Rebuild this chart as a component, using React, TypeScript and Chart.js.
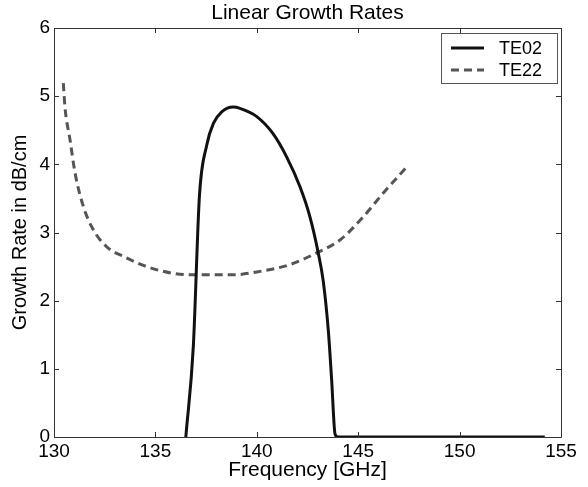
import React, { useEffect, useRef } from "react";
import { Chart, registerables } from "chart.js";

Chart.register(...registerables);

const titleText = "Linear Growth Rates";
const xLabel = "Frequency [GHz]";
const yLabel = "Growth Rate in dB/cm";

const te02Freq = [136.5, 136.87, 137.17, 137.53, 137.86, 138.27, 138.84, 139.17, 140.0, 140.8, 141.47, 142.13, 142.62, 143.03, 143.28, 143.53, 143.69, 143.86, 144.0, 146.0, 150.0, 154.2];
const te02Rate = [0, 1.33, 3.53, 4.28, 4.6, 4.77, 4.84, 4.82, 4.7, 4.45, 4.11, 3.67, 3.23, 2.7, 2.28, 1.55, 0.84, 0.04, 0, 0, 0, 0];

const te22Freq = [130.46, 130.54, 130.79, 131.04, 131.45, 131.94, 132.6, 133.42, 134.57, 135.88, 136.7, 138.84, 140.16, 141.64, 142.95, 144.1, 145.25, 146.24, 147.39];
const te22Rate = [5.19, 4.84, 4.36, 3.87, 3.38, 3.04, 2.79, 2.65, 2.5, 2.4, 2.38, 2.38, 2.43, 2.53, 2.7, 2.89, 3.23, 3.58, 3.96];

const xTicks = [130, 135, 140, 145, 150, 155];
const yTicks = [0, 1, 2, 3, 4, 5, 6];

const FONT = "'Liberation Sans', Arial, sans-serif";

const framePlugin = {
  id: "frame",
  afterDraw(chart: any) {
    const { ctx, chartArea: a, scales } = chart;
    const xs = scales.x;
    const ys = scales.y;
    ctx.save();
    ctx.strokeStyle = "#333";
    ctx.lineWidth = 1;
    ctx.beginPath();
    ctx.rect(Math.round(a.left) + 0.5, Math.round(a.top) + 0.5, Math.round(a.right - a.left), Math.round(a.bottom - a.top));
    ctx.stroke();
    const tl = 5;
    ctx.beginPath();
    xTicks.forEach((v) => {
      const px = Math.round(xs.getPixelForValue(v)) + 0.5;
      ctx.moveTo(px, a.bottom);
      ctx.lineTo(px, a.bottom - tl);
      ctx.moveTo(px, a.top);
      ctx.lineTo(px, a.top + tl);
    });
    yTicks.forEach((v) => {
      const py = Math.round(ys.getPixelForValue(v)) + 0.5;
      ctx.moveTo(a.left, py);
      ctx.lineTo(a.left + tl, py);
      ctx.moveTo(a.right, py);
      ctx.lineTo(a.right - tl, py);
    });
    ctx.stroke();

    // legend
    const bx = 441, by = 33, bw = 116, bh = 50;
    ctx.fillStyle = "#fff";
    ctx.fillRect(bx, by, bw, bh);
    ctx.strokeStyle = "#555";
    ctx.strokeRect(bx + 0.5, by + 0.5, bw, bh);
    const rows = [by + 15, by + 37];
    chart.data.datasets.forEach((ds: any, i: number) => {
      const y = rows[i];
      ctx.strokeStyle = ds.borderColor;
      ctx.lineWidth = ds.borderWidth;
      ctx.setLineDash(ds.borderDash || []);
      ctx.beginPath();
      ctx.moveTo(451, y);
      ctx.lineTo(484, y);
      ctx.stroke();
      ctx.setLineDash([]);
      ctx.fillStyle = "#000";
      ctx.font = `18px ${FONT}`;
      ctx.textBaseline = "middle";
      ctx.textAlign = "left";
      ctx.fillText(ds.label, 499, y + 1);
    });
    ctx.restore();
  },
};

export default function App() {
  const ref = useRef<HTMLCanvasElement | null>(null);
  useEffect(() => {
    document.body.style.margin = "0";
    const canvas = ref.current;
    if (!canvas) return;
    const chart = new Chart(canvas, {
      type: "scatter",
      data: {
        datasets: [
          {
            label: "TE02",
            data: te02Freq.map((x, i) => ({ x, y: te02Rate[i] })),
            showLine: true,
            borderColor: "#111",
            borderWidth: 3,
            pointRadius: 0,
            cubicInterpolationMode: "monotone",
          },
          {
            label: "TE22",
            data: te22Freq.map((x, i) => ({ x, y: te22Rate[i] })),
            showLine: true,
            borderColor: "#555",
            borderWidth: 3,
            borderDash: [8, 5],
            pointRadius: 0,
            cubicInterpolationMode: "monotone",
          },
        ],
      },
      options: {
        animation: false,
        responsive: false,
        layout: { padding: { top: 0, right: 27, left: 0, bottom: 0 } },
        plugins: {
          legend: { display: false },
          tooltip: { enabled: false },
          title: {
            display: true,
            fullSize: false,
            text: titleText,
            color: "#000",
            font: { family: FONT, size: 21, weight: "normal" },
            padding: { top: 1, bottom: 1.8 },
          },
        },
        scales: {
          x: {
            type: "linear",
            min: 130,
            max: 155,
            afterBuildTicks: (s: any) => { s.ticks = xTicks.map((v) => ({ value: v })); },
            afterFit: (s: any) => { s.height = 50; },
            grid: { display: false, drawTicks: false },
            border: { display: false },
            ticks: { color: "#000", font: { family: FONT, size: 19 }, padding: 3, maxRotation: 0 },
            title: { display: true, text: xLabel, color: "#000", font: { family: FONT, size: 21 }, padding: { top: 0, bottom: 3.8 } },
          },
          y: {
            type: "linear",
            min: 0,
            max: 6,
            afterBuildTicks: (s: any) => { s.ticks = yTicks.map((v) => ({ value: v })); },
            afterFit: (s: any) => { s.width = 54; },
            grid: { display: false, drawTicks: false },
            border: { display: false },
            ticks: { color: "#000", font: { family: FONT, size: 19 }, padding: 4 },
            title: { display: true, text: yLabel, color: "#000", font: { family: FONT, size: 20 }, padding: { top: 8, bottom: 0 } },
          },
        },
      },
      plugins: [framePlugin],
    } as any);
    return () => chart.destroy();
  }, []);
  return (
    <div style={{ width: 588, height: 487, background: "#fff" }}>
      <canvas ref={ref} width={588} height={487} style={{ width: 588, height: 487, display: "block" }} />
    </div>
  );
}
